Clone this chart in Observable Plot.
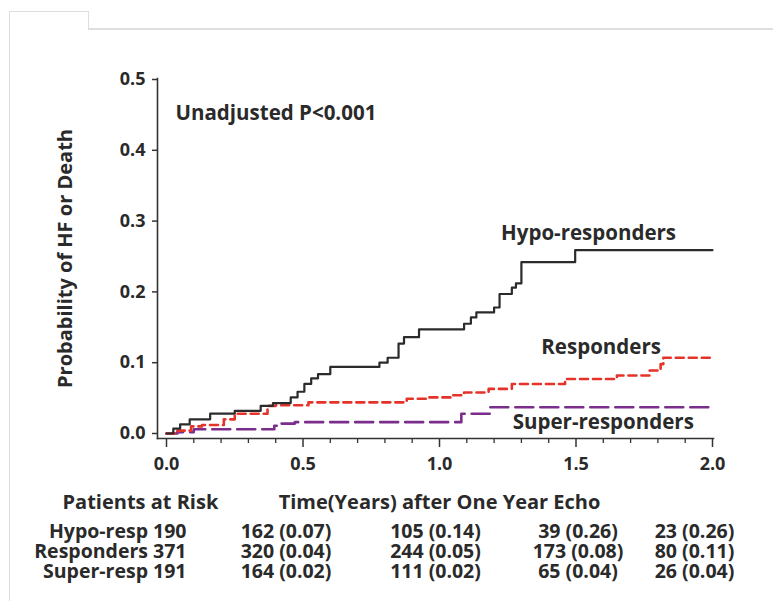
<!DOCTYPE html>
<html><head><meta charset="utf-8">
<script src="https://cdn.jsdelivr.net/npm/d3@7"></script>
<script src="https://cdn.jsdelivr.net/npm/@observablehq/plot@0.6"></script>
<style>
html,body{margin:0;padding:0;background:#fff;}
#wrap{position:relative;width:773px;height:601px;overflow:hidden;background:#fff;}
.ln{position:absolute;background:#dedede;}
#chart{position:absolute;left:0;top:0;}
</style></head><body>
<div id="wrap">
<div class="ln" style="left:9px;top:11px;width:1px;height:590px"></div>
<div class="ln" style="left:9px;top:11px;width:80px;height:1px"></div>
<div class="ln" style="left:88px;top:11px;width:1px;height:18px"></div>
<div class="ln" style="left:88px;top:28px;width:685px;height:2px"></div>
<div id="chart"></div>
</div>
<script>
// ---- data ----
const xTicks = [0, 0.5, 1.0, 1.5, 2.0];
const xMinor = [0.1, 0.2, 0.3, 0.4, 0.6, 0.7, 0.8, 0.9, 1.1, 1.2, 1.3, 1.4, 1.6, 1.7, 1.8, 1.9];
const yTicks = [0, 0.1, 0.2, 0.3, 0.4, 0.5];

const hypoT = [0, 0.025, 0.05, 0.085, 0.16, 0.25, 0.345, 0.39, 0.455, 0.48, 0.505, 0.53, 0.555, 0.60, 0.78, 0.81, 0.85, 0.87, 0.925, 1.09, 1.115, 1.135, 1.2, 1.22, 1.265, 1.28, 1.30, 1.497, 2.0];
const hypoP = [0, 0.007, 0.013, 0.02, 0.028, 0.032, 0.039, 0.043, 0.051, 0.059, 0.07, 0.078, 0.084, 0.094, 0.1, 0.107, 0.127, 0.136, 0.147, 0.155, 0.164, 0.171, 0.178, 0.197, 0.206, 0.212, 0.242, 0.259, 0.259];

const respT = [0, 0.04, 0.09, 0.13, 0.21, 0.25, 0.37, 0.40, 0.52, 0.88, 0.95, 1.04, 1.09, 1.18, 1.265, 1.46, 1.65, 1.77, 1.81, 1.82, 2.0];
const respP = [0, 0.004, 0.01, 0.012, 0.02, 0.028, 0.039, 0.04, 0.044, 0.049, 0.051, 0.054, 0.058, 0.063, 0.07, 0.077, 0.082, 0.089, 0.098, 0.107, 0.107];

const superT = [0, 0.04, 0.1, 0.395, 0.41, 0.47, 1.08, 1.185, 2.0];
const superP = [0, 0.002, 0.006, 0.011, 0.014, 0.016, 0.028, 0.037, 0.037];

const pText = "Unadjusted P<0.001";
const pT = 0.033, pP = 0.4525;
const curveLabels = ["Hypo-responders", "Responders", "Super-responders"];
const curveLabelT = [1.546, 1.592, 1.60];
const curveLabelP = [0.282, 0.121, 0.0155];

const yTitle = "Probability of HF or Death";
const xTitle = "Time(Years) after One Year Echo";
const riskTitle = "Patients at Risk";
const riskGroups = ["Hypo-resp", "Responders", "Super-resp"];
const riskN0 = [190, 371, 191];
const riskTimes = [0.5, 1.0, 1.5, 2.0];
const riskCounts = [[162, 105, 39, 23], [320, 244, 173, 80], [164, 111, 65, 26]];
const riskProb = [[0.07, 0.14, 0.26, 0.26], [0.04, 0.05, 0.08, 0.11], [0.02, 0.02, 0.04, 0.04]];

// ---- build ----
const rows = (T, P) => T.map((t, i) => ({t, p: P[i]}));
const labels = curveLabels.map((s, i) => ({s, t: curveLabelT[i], p: curveLabelP[i]}));
const ink = "#2a2a2a";
const rowDy = [93, 113, 133];
const colDx = [-17, -4, 2, -18];
const tableFont = 19.5;

const riskMarks = [];
riskGroups.forEach((g, r) => {
  riskMarks.push(Plot.text([`${g} ${riskN0[r]}`], {frameAnchor: "bottom-left", dx: 29, dy: rowDy[r], textAnchor: "end", lineAnchor: "middle", fill: ink, fontSize: tableFont}));
  riskTimes.forEach((t, c) => {
    riskMarks.push(Plot.text([{t, s: `${riskCounts[r][c]} (${riskProb[r][c].toFixed(2)})`}], {x: "t", text: "s", frameAnchor: "bottom", dx: colDx[c], dy: rowDy[r], textAnchor: "middle", lineAnchor: "middle", fill: ink, fontSize: tableFont}));
  });
});

const chart = Plot.plot({
  width: 773, height: 601,
  marginLeft: 157, marginRight: 60, marginTop: 78, marginBottom: 163,
  style: {fontFamily: "'Open Sans', sans-serif", fontWeight: "bold", fontSize: "18px", color: ink, background: "transparent", overflow: "visible"},
  x: {domain: [0, 2], range: [166, 712]},
  y: {domain: [0, 0.5], range: [433, 79]},
  marks: [
    Plot.frame({anchor: "left", stroke: "#333", strokeWidth: 1.6}),
    Plot.frame({anchor: "bottom", stroke: "#333", strokeWidth: 1.6}),
    Plot.axisY({ticks: yTicks, tickSize: 5, tickPadding: 7, tickFormat: d3.format(".1f"), label: null, stroke: "#333", strokeWidth: 1.5, fill: ink, fontSize: 18}),
    Plot.axisX({ticks: xTicks, tickSize: 9, tickPadding: 10, tickFormat: d3.format(".1f"), label: null, stroke: "#333", strokeWidth: 1.5, fill: ink, fontSize: 18}),
    Plot.axisX({ticks: xMinor, tickSize: 5, tickFormat: () => "", label: null, stroke: "#333", strokeWidth: 1.3}),
    Plot.line(rows(superT, superP), {x: "t", y: "p", curve: "step-after", stroke: "#7b2d8c", strokeWidth: 2.6, strokeDasharray: "18,7"}),
    Plot.line(rows(respT, respP), {x: "t", y: "p", curve: "step-after", stroke: "#e5332a", strokeWidth: 2.6, strokeDasharray: "8,5"}),
    Plot.line(rows(hypoT, hypoP), {x: "t", y: "p", curve: "step-after", stroke: "#2b2b2b", strokeWidth: 2.2}),
    Plot.text([{s: pText, t: pT, p: pP}], {x: "t", y: "p", text: "s", textAnchor: "start", lineAnchor: "middle", fill: ink, fontSize: 20.5}),
    Plot.text(labels, {x: "t", y: "p", text: "s", textAnchor: "middle", lineAnchor: "middle", fill: ink, fontSize: 20.5}),
    Plot.text([yTitle], {frameAnchor: "left", dx: -92, rotate: -90, textAnchor: "middle", lineAnchor: "middle", fill: ink, fontSize: 20}),
    Plot.text([riskTitle], {frameAnchor: "bottom-left", dx: -95, dy: 64, textAnchor: "start", lineAnchor: "middle", fill: ink, fontSize: 20}),
    Plot.text([{t: 1.0, s: xTitle}], {x: "t", text: "s", frameAnchor: "bottom", dy: 64, textAnchor: "middle", lineAnchor: "middle", fill: ink, fontSize: 20}),
    ...riskMarks
  ]
});
document.getElementById("chart").appendChild(chart);
</script>
</body></html>
